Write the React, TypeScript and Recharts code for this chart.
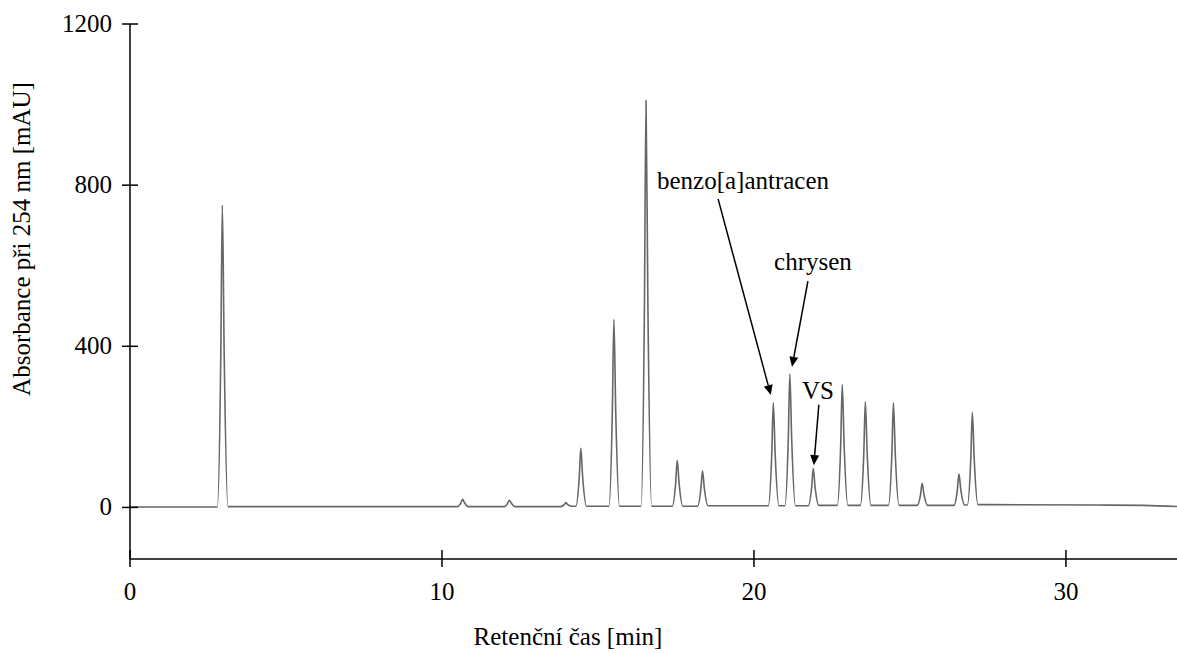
import { LineChart, Line, XAxis, YAxis, ReferenceLine, ReferenceDot } from "recharts"

// chromatogram trace (min, mAU)
const timeMin = [
  0, 2.8, 2.91, 2.96, 3.02, 3.14, 6, 10.5,
  10.61, 10.66, 10.72, 10.84, 12.0,
  12.11, 12.16, 12.22, 12.34, 13.81,
  13.92, 13.97, 14.03, 14.15, 14.29,
  14.4, 14.45, 14.51, 14.63, 15.35,
  15.46, 15.51, 15.57, 15.69, 16.38,
  16.49, 16.54, 16.6, 16.72, 17.38,
  17.49, 17.54, 17.6, 17.72, 18.19,
  18.3, 18.35, 18.41, 18.53, 20.46,
  20.57, 20.62, 20.68, 20.8, 20.99,
  21.1, 21.15, 21.21, 21.33, 21.74,
  21.85, 21.9, 21.96, 22.08, 22.67,
  22.78, 22.83, 22.89, 23.01, 23.41,
  23.52, 23.57, 23.63, 23.75, 24.31,
  24.42, 24.47, 24.53, 24.65, 25.23,
  25.34, 25.39, 25.45, 25.57, 26.41,
  26.52, 26.57, 26.63, 26.75, 26.84,
  26.95, 27.0, 27.06, 27.18, 27.5,
  31, 32.5, 33.6,
]
const absorbance = [
  1, 1, 375, 750, 375, 2, 2, 2,
  12, 20, 12, 2, 2,
  11, 18, 11, 2, 2,
  7, 12, 7, 3, 3,
  75, 147, 75, 3, 3,
  235, 467, 235, 3, 3,
  505, 1010, 505, 3, 3,
  60, 117, 60, 3, 3,
  47, 91, 47, 4, 4,
  132, 260, 132, 4, 4,
  168, 331, 168, 4, 4,
  50, 97, 50, 5, 5,
  155, 305, 155, 5, 5,
  133, 262, 133, 5, 5,
  132, 260, 132, 5, 5,
  32, 60, 32, 5, 5,
  44, 83, 44, 6, 6,
  120, 236, 120, 7, 7,
  6, 5, 2,
]

const xTicks = [0, 10, 20, 30]
const yTicks = [0, 400, 800, 1200]

const noteText = ["benzo[a]antracen", "chrysen", "VS"]
const noteAt = [[19.65, 790], [21.89, 589], [22.05, 269]]
const arrowFrom = [[18.85, 766], [21.73, 562], [22.08, 255]]
const arrowTo = [[20.54, 279], [21.22, 349], [21.92, 105]]

const data = timeMin.map((t, i) => ({ t, a: absorbance[i] }))

const font = "'Liberation Serif', 'Times New Roman', serif"
const fs = 25

const XTick = (p: any) => (
  <g>
    <line x1={p.x} x2={p.x} y1={p.y - 9} y2={p.y + 8} stroke="#000" strokeWidth={1.5} />
    <text x={p.x} y={p.y + 41} textAnchor="middle" fontFamily={font} fontSize={fs} fill="#000">
      {p.payload.value}
    </text>
  </g>
)

const YTick = (p: any) => (
  <g>
    <line x1={p.x - 8} x2={p.x + 8} y1={p.y} y2={p.y} stroke="#000" strokeWidth={1.5} />
    <text x={p.x - 18} y={p.y + 8} textAnchor="end" fontFamily={font} fontSize={fs} fill="#000">
      {p.payload.value}
    </text>
  </g>
)

const Arrow = (p: any) => {
  const dx = p.x2 - p.x1
  const dy = p.y2 - p.y1
  const len = Math.sqrt(dx * dx + dy * dy)
  const ux = dx / len
  const uy = dy / len
  const bx = p.x2 - ux * 10
  const by = p.y2 - uy * 10
  return (
    <g>
      <line x1={p.x1} y1={p.y1} x2={bx} y2={by} stroke="#000" strokeWidth={1.5} />
      <polygon
        points={`${p.x2},${p.y2} ${bx - uy * 4.5},${by + ux * 4.5} ${bx + uy * 4.5},${by - ux * 4.5}`}
        fill="#000"
      />
    </g>
  )
}

export default function App() {
  return (
    <div style={{ position: "absolute", left: 0, top: 0 }}>
      <LineChart width={1177} height={653} data={data} margin={{ top: 24, right: 0, left: 0, bottom: 0 }}>
        <XAxis
          dataKey="t"
          type="number"
          domain={[0, 33.56]}
          allowDataOverflow
          ticks={xTicks}
          tickSize={0}
          tickMargin={0}
          tickLine={false}
          tick={XTick}
          height={94}
          axisLine={{ stroke: "#000", strokeWidth: 1.5 }}
          label={{
            content: (lp: any) => (
              <text x={568} y={lp.viewBox.y + 86} textAnchor="middle" fontFamily={font} fontSize={fs} fill="#000">
                Retenční čas [min]
              </text>
            ),
          }}
        />
        <YAxis
          type="number"
          domain={[-128, 1200]}
          allowDataOverflow
          ticks={yTicks}
          tickSize={0}
          tickMargin={0}
          tickLine={false}
          tick={YTick}
          width={130}
          axisLine={{ stroke: "#000", strokeWidth: 1.5 }}
          label={{
            content: (lp: any) => (
              <text
                x={30}
                y={lp.viewBox.y + 215}
                transform={`rotate(-90 30 ${lp.viewBox.y + 215})`}
                textAnchor="middle"
                fontFamily={font}
                fontSize={fs}
                fill="#000"
              >
                Absorbance při 254 nm [mAU]
              </text>
            ),
          }}
        />
        <Line
          dataKey="a"
          type="monotone"
          stroke="#666"
          strokeWidth={1.6}
          dot={false}
          activeDot={false}
          isAnimationActive={false}
        />
        {noteText.map((txt, i) => (
          <ReferenceLine
            key={"arr" + i}
            segment={[
              { x: arrowFrom[i][0], y: arrowFrom[i][1] },
              { x: arrowTo[i][0], y: arrowTo[i][1] },
            ]}
            shape={Arrow}
          />
        ))}
        {noteText.map((txt, i) => (
          <ReferenceDot
            key={"txt" + i}
            x={noteAt[i][0]}
            y={noteAt[i][1]}
            r={0}
            shape={(p: any) => (
              <text x={p.cx} y={p.cy} textAnchor="middle" fontFamily={font} fontSize={fs} fill="#000">
                {txt}
              </text>
            )}
          />
        ))}
      </LineChart>
    </div>
  )
}
